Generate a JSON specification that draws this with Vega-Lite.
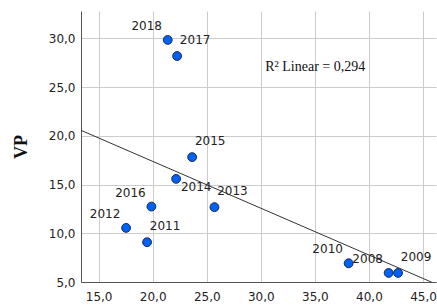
{
  "$schema": "https://vega.github.io/schema/vega-lite/v6.json",
  "width": 355,
  "height": 271,
  "autosize": "none",
  "padding": {"left": 81, "top": 11, "right": 1, "bottom": 24},
  "background": "white",
  "config": {
    "view": {"stroke": null},
    "axis": {
      "grid": true,
      "gridColor": "#cccccc",
      "gridWidth": 1,
      "domainColor": "#555555",
      "domainWidth": 1,
      "ticks": false,
      "labelFont": "DejaVu Sans",
      "labelFontSize": 12,
      "labelColor": "#222222",
      "titleFont": "Liberation Serif"
    }
  },
  "data": {
    "values": [
      {"year": "2008", "x": 41.82, "vp": 5.93},
      {"year": "2009", "x": 42.69, "vp": 5.93},
      {"year": "2010", "x": 38.12, "vp": 6.92},
      {"year": "2011", "x": 19.48, "vp": 9.08},
      {"year": "2012", "x": 17.54, "vp": 10.55},
      {"year": "2013", "x": 25.71, "vp": 12.68},
      {"year": "2014", "x": 22.17, "vp": 15.58},
      {"year": "2015", "x": 23.65, "vp": 17.81},
      {"year": "2016", "x": 19.88, "vp": 12.74},
      {"year": "2017", "x": 22.26, "vp": 28.18},
      {"year": "2018", "x": 21.39, "vp": 29.83}
    ]
  },
  "encoding": {
    "x": {
      "field": "x", "type": "quantitative",
      "scale": {"domain": [13.37, 46.2], "nice": false, "zero": false},
      "axis": {"values": [15, 20, 25, 30, 35, 40, 45], "title": null, "labelPadding": 9,
        "labelExpr": "replace(format(datum.value, '.1f'), '.', ',')"}
    },
    "y": {
      "field": "vp", "type": "quantitative",
      "scale": {"domain": [5, 32.8], "nice": false, "zero": false},
      "axis": {"values": [5, 10, 15, 20, 25, 30], "title": "VP", "titleFontSize": 18, "titleFontWeight": "bold",
        "titleColor": "#111111", "titlePadding": 18, "labelPadding": 6,
        "labelExpr": "replace(format(datum.value, '.1f'), '.', ',')"}
    }
  },
  "layer": [
    {
      "transform": [{"regression": "vp", "on": "x", "extent": [13.37, 46.2]}],
      "mark": {"type": "line", "color": "#333333", "strokeWidth": 1, "clip": true}
    },
    {
      "mark": {"type": "point", "filled": true, "fill": "#0062f5", "stroke": "#1a2a50", "strokeWidth": 1, "size": 78, "opacity": 1}
    },
    {
      "transform": [{"filter": {"field": "year", "oneOf": ["2018", "2016", "2012", "2010", "2008"]}}],
      "mark": {"type": "text", "font": "DejaVu Sans", "fontSize": 12, "color": "#222222", "dx": -21, "dy": -14},
      "encoding": {"text": {"field": "year"}}
    },
    {
      "transform": [{"filter": {"field": "year", "oneOf": ["2017", "2015", "2011", "2013", "2009"]}}],
      "mark": {"type": "text", "font": "DejaVu Sans", "fontSize": 12, "color": "#222222", "dx": 18, "dy": -16},
      "encoding": {"text": {"field": "year"}}
    },
    {
      "transform": [{"filter": {"field": "year", "oneOf": ["2014"]}}],
      "mark": {"type": "text", "font": "DejaVu Sans", "fontSize": 12, "color": "#222222", "dx": 20, "dy": 8},
      "encoding": {"text": {"field": "year"}}
    },
    {
      "transform": [{"filter": {"field": "year", "equal": "2018"}}],
      "mark": {"type": "text", "font": "Liberation Serif", "fontSize": 14, "fontWeight": "normal", "color": "#111111", "align": "left", "baseline": "middle"},
      "encoding": {
        "x": {"datum": 30.41, "type": "quantitative"},
        "y": {"datum": 27.06, "type": "quantitative"},
        "text": {"value": "R² Linear = 0,294"}
      }
    }
  ]
}
